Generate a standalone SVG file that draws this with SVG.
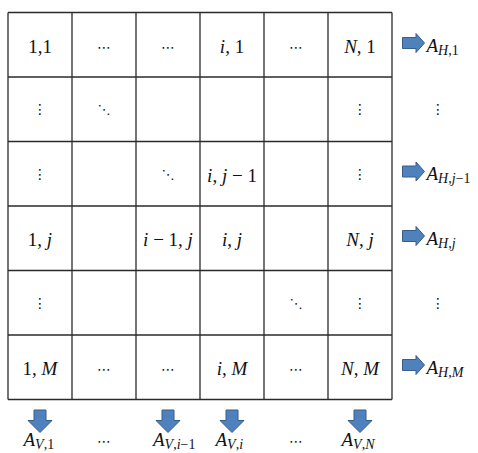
<svg xmlns="http://www.w3.org/2000/svg" width="478" height="453" viewBox="0 0 478 453">
<style>
.grid line{stroke:#2a2a2a;stroke-width:1.3}
.t{font-family:"Liberation Serif","Times New Roman",serif;font-size:19px;fill:#111;text-anchor:middle}
.i{font-style:italic}
.u{font-style:normal}
.d{font-family:"DejaVu Sans",sans-serif;font-size:14px;fill:#111;text-anchor:middle}
.dg{font-family:"DejaVu Sans",sans-serif;font-size:13px;fill:#111;text-anchor:middle}
.lab{font-family:"Liberation Serif","Times New Roman",serif;font-size:19px;font-style:italic;fill:#111}
.sub{font-size:14px}
.arr{fill:#4F81BD;stroke:#385D8A;stroke-width:1}
</style>
<rect width="478" height="453" fill="#fff"/>
<g id="grid" class="grid">
<line x1="8" y1="12.5" x2="392" y2="12.5"/>
<line x1="8" y1="77" x2="392" y2="77"/>
<line x1="8" y1="141.5" x2="392" y2="141.5"/>
<line x1="8" y1="206" x2="392" y2="206"/>
<line x1="8" y1="270.5" x2="392" y2="270.5"/>
<line x1="8" y1="335" x2="392" y2="335"/>
<line x1="8" y1="399.5" x2="392" y2="399.5"/>
<line x1="8" y1="12.5" x2="8" y2="399.5"/>
<line x1="72" y1="12.5" x2="72" y2="399.5"/>
<line x1="136" y1="12.5" x2="136" y2="399.5"/>
<line x1="200" y1="12.5" x2="200" y2="399.5"/>
<line x1="264" y1="12.5" x2="264" y2="399.5"/>
<line x1="328" y1="12.5" x2="328" y2="399.5"/>
<line x1="392" y1="12.5" x2="392" y2="399.5"/>
</g>
<g id="cells">
<text class="t" x="40" y="52.5">1,1</text>
<text class="d" x="104" y="51.5">⋯</text>
<text class="d" x="168" y="51.5">⋯</text>
<text class="t" x="232" y="52.5"><tspan class="i">i</tspan>, 1</text>
<text class="d" x="296" y="51.5">⋯</text>
<text class="t" x="360" y="52.5"><tspan class="i">N</tspan>, 1</text>

<text class="d" x="40" y="114">⋮</text>
<text class="dg" x="104" y="114">⋱</text>
<text class="d" x="360" y="114">⋮</text>

<text class="d" x="40" y="178.5">⋮</text>
<text class="dg" x="168" y="178.5">⋱</text>
<text class="t" x="232" y="181.5"><tspan class="i">i</tspan>, <tspan class="i">j</tspan> − 1</text>
<text class="d" x="360" y="178.5">⋮</text>

<text class="t" x="40" y="246"><tspan>1, </tspan><tspan class="i">j</tspan></text>
<text class="t" x="168" y="246"><tspan class="i">i</tspan> − 1, <tspan class="i">j</tspan></text>
<text class="t" x="232" y="246"><tspan class="i">i</tspan>, <tspan class="i">j</tspan></text>
<text class="t" x="360" y="246"><tspan class="i">N</tspan>, <tspan class="i">j</tspan></text>

<text class="d" x="40" y="307.5">⋮</text>
<text class="dg" x="296" y="307.5">⋱</text>
<text class="d" x="360" y="307.5">⋮</text>

<text class="t" x="40" y="375"><tspan>1, </tspan><tspan class="i">M</tspan></text>
<text class="d" x="104" y="374">⋯</text>
<text class="d" x="168" y="374">⋯</text>
<text class="t" x="232" y="375"><tspan class="i">i</tspan>, <tspan class="i">M</tspan></text>
<text class="d" x="296" y="374">⋯</text>
<text class="t" x="360" y="375"><tspan class="i">N</tspan>, <tspan class="i">M</tspan></text>
</g>
<g id="connectors">
<path class="arr" d="M402.5,37.5 H416 V33.5 L424.5,43 L416,52.5 V48.5 H402.5 Z"/>
<path class="arr" d="M402.5,166 H416 V162 L424.5,171.5 L416,181 V177 H402.5 Z"/>
<path class="arr" d="M402.5,230.5 H416 V226.5 L424.5,236 L416,245.5 V241.5 H402.5 Z"/>
<path class="arr" d="M402.5,359.5 H416 V355.5 L424.5,365 L416,374.5 V370.5 H402.5 Z"/>
<path class="arr" d="M34,410 H46 V420.5 H52 L40,432.5 L28,420.5 H34 Z"/>
<path class="arr" d="M162,410 H174 V420.5 H180 L168,432.5 L156,420.5 H162 Z"/>
<path class="arr" d="M226,410 H238 V420.5 H244 L232,432.5 L220,420.5 H226 Z"/>
<path class="arr" d="M354,410 H366 V420.5 H372 L360,432.5 L348,420.5 H354 Z"/>
</g>
<g id="labels">
<text class="lab" x="426.5" y="51.5">A<tspan class="sub" dy="3">H<tspan class="u">,1</tspan></tspan></text>
<text class="d" x="438" y="114">⋮</text>
<text class="lab" x="426.5" y="180">A<tspan class="sub" dy="3">H<tspan class="u">,</tspan>j<tspan class="u">−1</tspan></tspan></text>
<text class="lab" x="426.5" y="244.5">A<tspan class="sub" dy="3">H<tspan class="u">,</tspan>j</tspan></text>
<text class="d" x="438" y="307.5">⋮</text>
<text class="lab" x="426.5" y="373.5">A<tspan class="sub" dy="3">H<tspan class="u">,</tspan>M</tspan></text>
<text class="lab" x="23.5" y="445.5">A<tspan class="sub" dy="3">V<tspan class="u">,1</tspan></tspan></text>
<text class="d" x="104" y="446">⋯</text>
<text class="lab" x="153" y="445.5">A<tspan class="sub" dy="3">V<tspan class="u">,</tspan>i<tspan class="u">−1</tspan></tspan></text>
<text class="lab" x="215.5" y="445.5">A<tspan class="sub" dy="3">V<tspan class="u">,</tspan>i</tspan></text>
<text class="d" x="296" y="446">⋯</text>
<text class="lab" x="341.5" y="445.5">A<tspan class="sub" dy="3">V<tspan class="u">,</tspan>N</tspan></text>
</g>
</svg>
